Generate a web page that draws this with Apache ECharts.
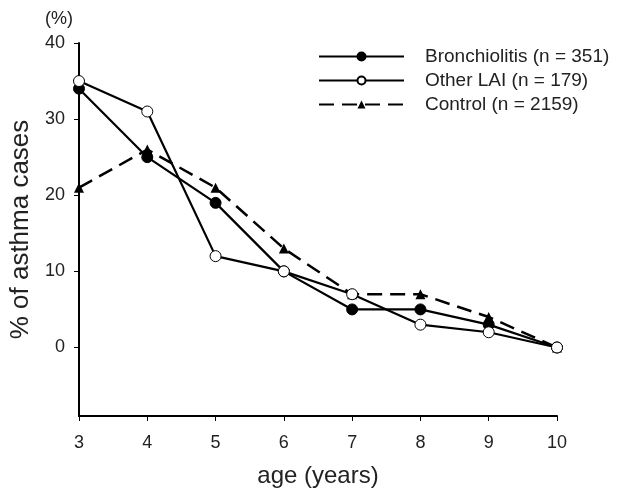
<!DOCTYPE html>
<html><head><meta charset="utf-8">
<script src="https://cdn.jsdelivr.net/npm/echarts@6/dist/echarts.min.js"></script>
<style>html,body{margin:0;padding:0;background:#fff}#c{width:625px;height:499px}</style>
</head><body><div id="c"></div>
<script>
const ages = [3, 4, 5, 6, 7, 8, 9, 10];
const bronchiolitis = [34, 25, 19, 10, 5, 5, 3, 0];
const otherLAI = [35, 31, 12, 10, 7, 3, 2, 0];
const control = [21, 26, 21, 13, 7, 7, 4, 0];
const yTicks = [0, 10, 20, 30, 40];
const seriesNames = ['Bronchiolitis (n = 351)', 'Other LAI (n = 179)', 'Control (n = 2159)'];

const pair = arr => ages.map((a, i) => [a, arr[i]]);
const font = 'Liberation Sans, Arial, sans-serif';
const chart = echarts.init(document.getElementById('c'), null, {renderer: 'canvas'});
chart.setOption({
  animation: false,
  backgroundColor: '#fff',
  title: {text: '(%)', left: 40, top: 5, textStyle: {fontFamily: font, fontSize: 18, fontWeight: 'normal', color: '#222'}},
  grid: {left: 79, right: 68, top: 43, bottom: 83},
  legend: {
    left: 313, top: 40, orient: 'vertical', itemWidth: 85, itemHeight: 10, itemGap: 1,
    textStyle: {fontFamily: font, fontSize: 19, color: '#222', padding: [0, 0, 0, 16], lineHeight: 23},
    data: seriesNames
  },
  xAxis: {
    type: 'value', min: 3, max: 10, interval: 1,
    name: 'age (years)', nameLocation: 'middle', nameGap: 48,
    nameTextStyle: {fontFamily: font, fontSize: 24, color: '#222'},
    axisLine: {onZero: false, lineStyle: {color: '#000', width: 2}},
    axisTick: {show: true, length: 5, lineStyle: {color: '#000', width: 1}},
    axisLabel: {fontFamily: font, fontSize: 18, color: '#222', margin: 18},
    splitLine: {show: false}
  },
  yAxis: {
    type: 'value', min: -9, max: 40,
    name: '% of asthma cases', nameLocation: 'middle', nameGap: 44,
    nameTextStyle: {fontFamily: font, fontSize: 26, color: '#222'},
    axisLine: {show: true, lineStyle: {color: '#000', width: 2}},
    axisTick: {show: true, length: 5, lineStyle: {color: '#000', width: 1}, customValues: yTicks},
    axisLabel: {fontFamily: font, fontSize: 18, color: '#222', margin: 14, customValues: yTicks},
    splitLine: {show: false}
  },
  series: [
    {name: seriesNames[0], type: 'line', data: pair(bronchiolitis), symbol: 'circle', symbolSize: 11,
     lineStyle: {color: '#000', width: 2.2}, itemStyle: {color: '#000', borderColor: '#000', borderWidth: 1}, z: 3},
    {name: seriesNames[1], type: 'line', data: pair(otherLAI), symbol: 'circle', symbolSize: 11,
     lineStyle: {color: '#000', width: 2.2}, itemStyle: {color: '#fff', borderColor: '#000', borderWidth: 1}, z: 4},
    {name: seriesNames[2], type: 'line', data: pair(control), symbol: 'triangle', symbolSize: 10,
     lineStyle: {color: '#000', width: 2.5, type: [15, 8]}, itemStyle: {color: '#000', borderColor: '#000', borderWidth: 0}, z: 2}
  ]
});
</script></body></html>
